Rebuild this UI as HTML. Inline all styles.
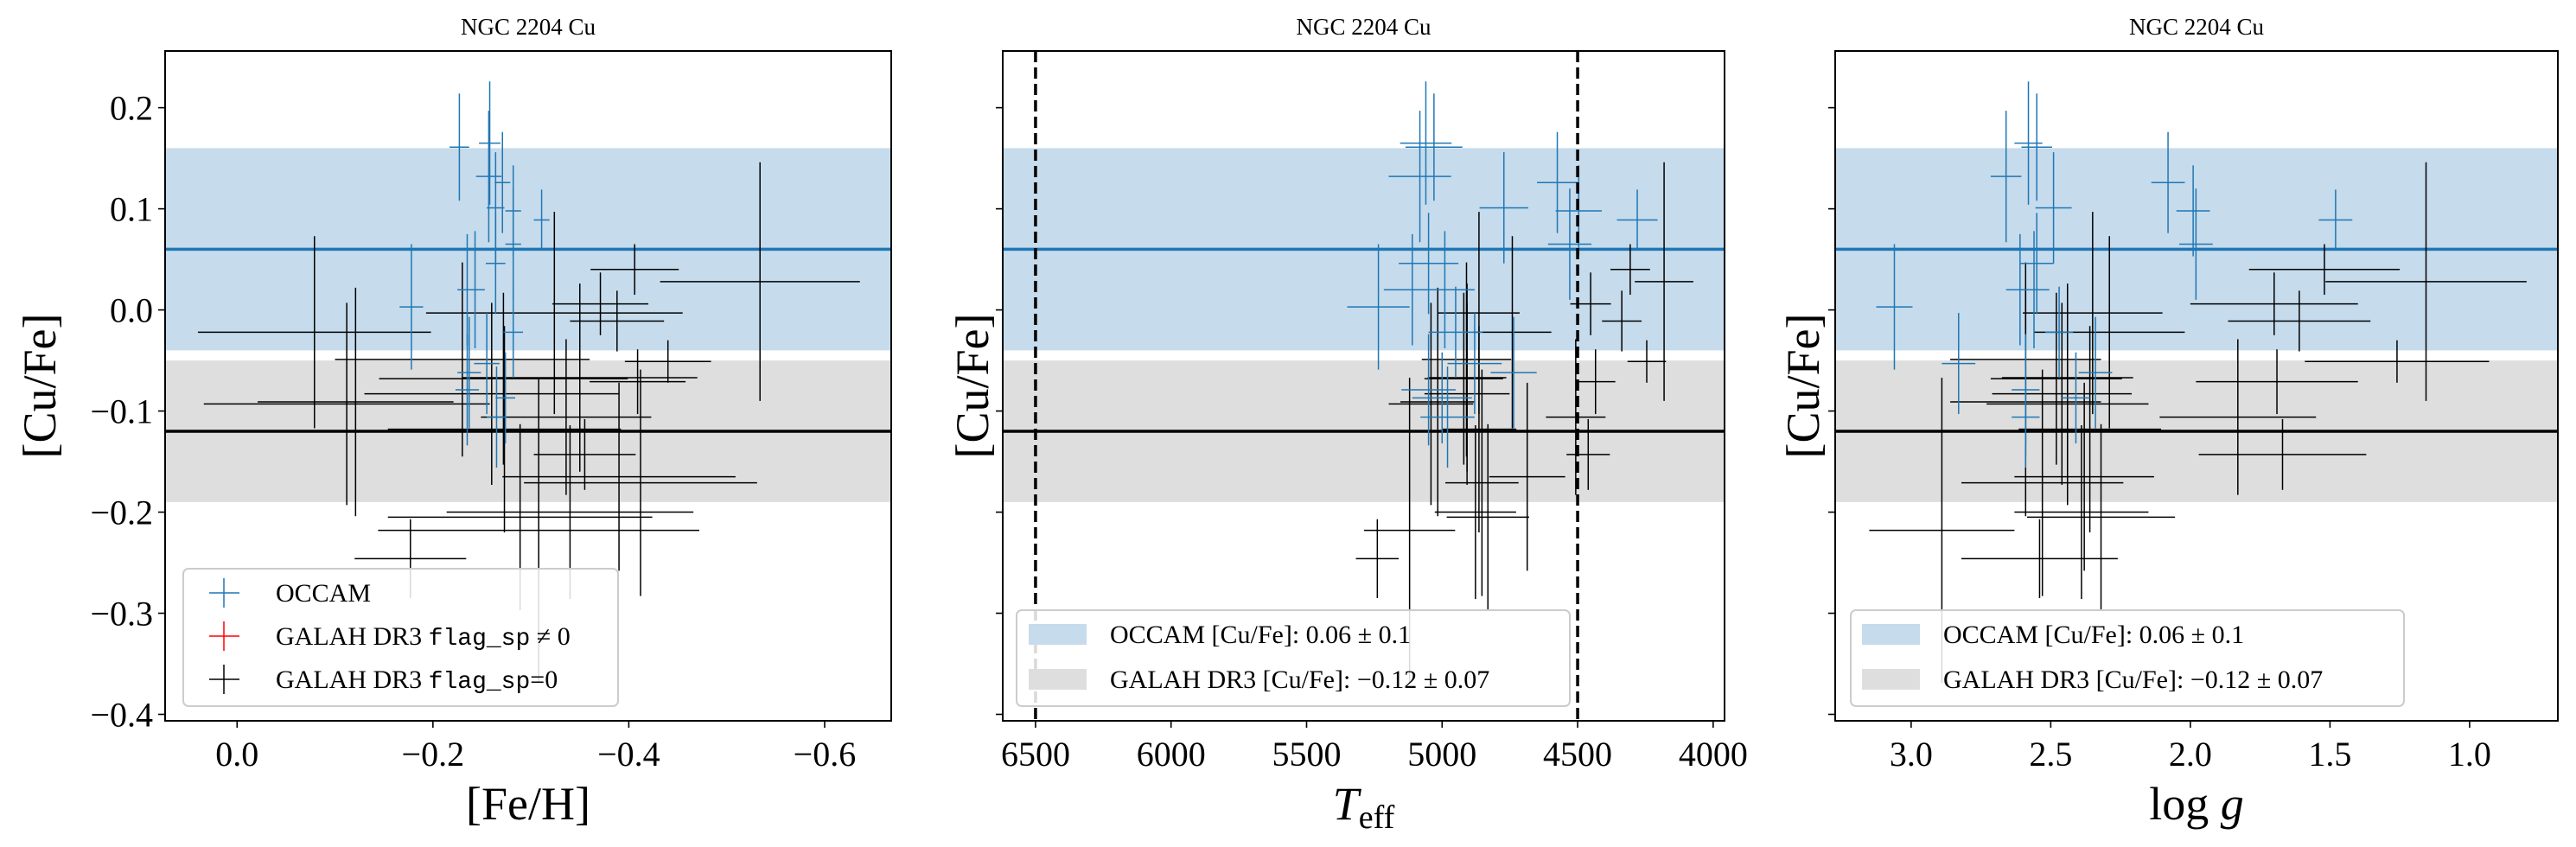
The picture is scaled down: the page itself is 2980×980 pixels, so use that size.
<!DOCTYPE html>
<html><head><meta charset="utf-8">
<style>
html,body{margin:0;padding:0;background:#fff;}
svg{display:block;font-family:"Liberation Serif",serif;}
.mono{font-family:"Liberation Mono",monospace;}
</style></head>
<body>
<svg id="fig" width="2980" height="980" viewBox="0 0 2980 980" xmlns="http://www.w3.org/2000/svg"></svg>
<script>
// ---- data: OCCAM stars ----
const occCuFe    = [0.165,0.161,0.132,0.126,0.101,0.098,0.089,0.065,0.046,0.003,0.020,0.020,-0.022,-0.053,-0.062,-0.079,-0.087,-0.106];
const occCuFeErr = [0.061,0.053,0.065,0.050,0.055,0.045,0.030,0.055,0.050,0.062,0.055,0.058,0.045,0.050,0.055,0.055,0.045,0.050];
const occFeH     = [-0.258,-0.227,-0.257,-0.271,-0.264,-0.282,-0.311,-0.282,-0.264,-0.178,-0.235,-0.243,-0.282,-0.255,-0.237,-0.235,-0.274,-0.265];
const occFeHErr  = [0.011,0.010,0.013,0.008,0.009,0.008,0.008,0.008,0.010,0.012,0.010,0.010,0.010,0.013,0.012,0.012,0.010,0.010];
const occTeff    = [5060,5030,5082,4575,4772,4496,4280,4529,5050,5235,5110,4990,4950,4880,4736,5050,5000,4980];
const occTeffErr = [95,105,115,75,90,85,75,80,110,115,105,110,100,100,85,100,110,100];
const occLogg    = [2.58,2.55,2.66,2.08,2.49,1.99,1.48,1.98,2.55,3.06,2.61,2.56,2.47,2.83,2.34,2.59,2.41,2.59];
const occLoggErr = [0.05,0.055,0.055,0.06,0.065,0.06,0.06,0.06,0.06,0.065,0.05,0.055,0.05,0.06,0.06,0.05,0.05,0.05];
// ---- data: GALAH DR3 stars (flag_sp = 0) ----
const galCuFe    = [0.028,0.040,0.006,-0.011,-0.003,-0.022,-0.093,-0.091,-0.051,-0.071,-0.067,-0.049,-0.106,-0.143,-0.165,-0.171,-0.200,-0.205,-0.218,-0.246,-0.118,-0.083,-0.068];
const galCuFeErr = [0.118,0.025,0.031,0.030,0.100,0.095,0.100,0.113,0.021,0.032,0.093,0.096,0.077,0.035,0.093,0.112,0.086,0.092,0.151,0.039,0.102,0.090,0.085];
const galFeH     = [-0.534,-0.406,-0.371,-0.388,-0.324,-0.079,-0.112,-0.121,-0.440,-0.409,-0.350,-0.230,-0.336,-0.355,-0.390,-0.412,-0.340,-0.289,-0.308,-0.177,-0.273,-0.260,-0.272];
const galFeHErr  = [0.102,0.045,0.049,0.048,0.131,0.119,0.146,0.100,0.044,0.049,0.120,0.130,0.087,0.052,0.119,0.119,0.126,0.135,0.164,0.057,0.119,0.130,0.127];
const galTeff    = [4181,4306,4452,4337,4864,4741,5041,5016,4245,4434,4908,4910,4507,4461,4686,4853,4877,4831,5120,5239,4864,4908,4920];
const galTeffErr = [108,73,75,73,150,144,156,138,71,73,145,165,110,80,140,135,150,152,168,79,138,157,145];
const galLogg    = [1.156,1.52,1.70,1.61,2.35,2.29,2.44,2.59,1.26,1.69,2.44,2.59,1.83,1.67,2.38,2.53,2.39,2.32,2.89,2.54,2.36,2.46,2.48];
const galLoggErr = [0.36,0.27,0.30,0.255,0.25,0.27,0.29,0.27,0.33,0.29,0.235,0.27,0.28,0.30,0.25,0.29,0.24,0.265,0.26,0.28,0.255,0.25,0.235];
// ---- reference values ----
const occMean = 0.06, occStd = 0.1;
const galMean = -0.12, galStd = 0.07;
const yTicks = [0.2,0.1,0.0,-0.1,-0.2,-0.3,-0.4];
const fehTicks = [0.0,-0.2,-0.4,-0.6];
const teffTicks = [6500,6000,5500,5000,4500,4000];
const loggTicks = [3.0,2.5,2.0,1.5,1.0];
const teffCuts = [6500,4500];

const NS="http://www.w3.org/2000/svg";
const svg=document.getElementById('fig');
function el(tag,attrs,parent){const e=document.createElementNS(NS,tag);for(const k in attrs)e.setAttribute(k,attrs[k]);(parent||svg).appendChild(e);return e;}

const TOP=59,BOT=834,YMAX=0.2561,YMIN=-0.4064;
function yPix(v){return TOP+(YMAX-v)/(YMAX-YMIN)*(BOT-TOP);}
function fmt(v,d){const s=Math.abs(v).toFixed(d);return (v<0?'\u2212':'')+s;}

const panels=[
 {name:'feh',L:191,R:1031,d0:0.0735,d1:-0.668,xs:[occFeH,galFeH],xe:[occFeHErr,galFeHErr],ticks:fehTicks,dec:1,ylab:46,tickLabels:true},
 {name:'teff',L:1160,R:1995,d0:6621,d1:3958,xs:[occTeff,galTeff],xe:[occTeffErr,galTeffErr],ticks:teffTicks,dec:0,ylab:1125,tickLabels:false},
 {name:'logg',L:2123,R:2959,d0:3.272,d1:0.684,xs:[occLogg,galLogg],xe:[occLoggErr,galLoggErr],ticks:loggTicks,dec:1,ylab:2086,tickLabels:false}
];

panels.forEach((p,pi)=>{
  const g=el('g',{});
  
  
  const xPix=v=>p.L+(v-p.d0)/(p.d1-p.d0)*(p.R-p.L);
  const W=p.R-p.L;
  // bands
  const b1=el('rect',{x:p.L,y:yPix(occMean+occStd),width:W,height:yPix(occMean-occStd)-yPix(occMean+occStd),fill:'#c6dbec'},g);
  
  const b2=el('rect',{x:p.L,y:yPix(galMean+galStd),width:W,height:yPix(galMean-galStd)-yPix(galMean+galStd),fill:'#dedede'},g);
  
  const l1=el('line',{x1:p.L,x2:p.R,y1:yPix(occMean),y2:yPix(occMean),stroke:'#1f77b4','stroke-width':3.5},g);
  
  const l2=el('line',{x1:p.L,x2:p.R,y1:yPix(galMean),y2:yPix(galMean),stroke:'#000','stroke-width':3.5},g);
  
  // points
  const series=[{c:occCuFe,ce:occCuFeErr,x:p.xs[0],xe:p.xe[0],col:'#1f77b4',n:'occam-point'},
                {c:galCuFe,ce:galCuFeErr,x:p.xs[1],xe:p.xe[1],col:'#000',n:'galah-point'}];
  [1,0].forEach(si=>{
    const s=series[si];
    s.c.forEach((v,i)=>{
      const cx=xPix(s.x[i]),cy=yPix(v);
      const pg=el('g',{stroke:s.col,'stroke-width':1.5},g);
      
      
      el('line',{x1:cx,x2:cx,y1:yPix(v+s.ce[i]),y2:yPix(v-s.ce[i])},pg);
      el('line',{x1:xPix(s.x[i]-s.xe[i]),x2:xPix(s.x[i]+s.xe[i]),y1:cy,y2:cy},pg);
    });
  });
  if(p.name==='teff'){
    teffCuts.forEach(t=>{
      const d=el('line',{x1:xPix(t),x2:xPix(t),y1:TOP,y2:BOT,stroke:'#000','stroke-width':3.5,'stroke-dasharray':'13,6'},g);
      
    });
  }
  // frame
  const fr=el('rect',{x:p.L,y:TOP,width:W,height:BOT-TOP,fill:'none',stroke:'#000','stroke-width':2},g);
  
  // y ticks
  yTicks.forEach(t=>{
    const y=yPix(t);
    el('line',{x1:p.L-8,x2:p.L,y1:y,y2:y,stroke:'#000','stroke-width':1.6},g);
    if(p.tickLabels){
      const tx=el('text',{x:p.L-14,y:y+14,'text-anchor':'end','font-size':40},g);
      tx.textContent=fmt(t,1);
      
    }
  });
  // x ticks
  p.ticks.forEach(t=>{
    const x=xPix(t);
    el('line',{x1:x,x2:x,y1:BOT,y2:BOT+8,stroke:'#000','stroke-width':1.6},g);
    const tx=el('text',{x:x,y:886,'text-anchor':'middle','font-size':40},g);
    tx.textContent=p.dec?fmt(t,1):String(t);
    
  });
  // title
  const ti=el('text',{x:(p.L+p.R)/2,y:40,'text-anchor':'middle','font-size':27},g);
  ti.textContent='NGC 2204 Cu';
  
  // y label
  const yl=el('text',{x:0,y:0,'text-anchor':'middle','font-size':54,transform:`translate(${p.ylab+18},${(TOP+BOT)/2}) rotate(-90)`},g);
  yl.textContent='[Cu/Fe]';
  
  // x label
  const xl=el('text',{x:(p.L+p.R)/2,y:948,'text-anchor':'middle','font-size':54},g);
  
  if(p.name==='feh'){xl.textContent='[Fe/H]';}
  else if(p.name==='teff'){
    const a=el('tspan',{'font-style':'italic'},xl);a.textContent='T';
    const b=el('tspan',{'font-size':38,dy:10},xl);b.textContent='eff';
  } else {
    const a=el('tspan',{},xl);a.textContent='log ';
    const b=el('tspan',{'font-style':'italic'},xl);b.textContent='g';
  }
});

// legend panel 1
(function(){
  const lg=el('g',{});
  
  el('rect',{x:212,y:658,width:503,height:159,rx:6,fill:'rgba(255,255,255,0.85)',stroke:'#cccccc','stroke-width':2},lg);
  const rows=[{c:'#1f77b4',y:686,t:'OCCAM'},{c:'#ff0000',y:736,t:'GALAH DR3 '},{c:'#000',y:786,t:'GALAH DR3 '}];
  rows.forEach((r,i)=>{
    const e=el('g',{},lg);
    
    el('line',{x1:242,x2:277,y1:r.y,y2:r.y,stroke:r.c,'stroke-width':1.5},e);
    el('line',{x1:259,x2:259,y1:r.y-17,y2:r.y+17,stroke:r.c,'stroke-width':1.5},e);
    const t=el('text',{x:319,y:r.y+10,'font-size':30},e);
    t.appendChild(document.createTextNode(r.t));
    if(i>0){const m=el('tspan',{class:'mono','font-size':28},t);m.textContent='flag_sp';
      const q=el('tspan',{},t);q.textContent=i===1?' \u2260 0':'=0';}
  });
})();
// legends panels 2 and 3
[[1176,1190,1284,640],[2141,2154,2248,640]].forEach(a=>{
  const lg=el('g',{});
  
  el('rect',{x:a[0],y:706,width:a[3],height:111,rx:6,fill:'rgba(255,255,255,0.85)',stroke:'#cccccc','stroke-width':2},lg);
  [['#c6dbec',734,'OCCAM [Cu/Fe]:  0.06 \u00b1 0.1'],['#dedede',786,'GALAH DR3 [Cu/Fe]:  \u22120.12 \u00b1 0.07']].forEach(r=>{
    const e=el('g',{},lg);
    
    el('rect',{x:a[1],y:r[1]-12,width:67,height:24,fill:r[0]},e);
    const t=el('text',{x:a[2],y:r[1]+10,'font-size':30},e);t.textContent=r[2];
  });
});
</script>
</body></html>
